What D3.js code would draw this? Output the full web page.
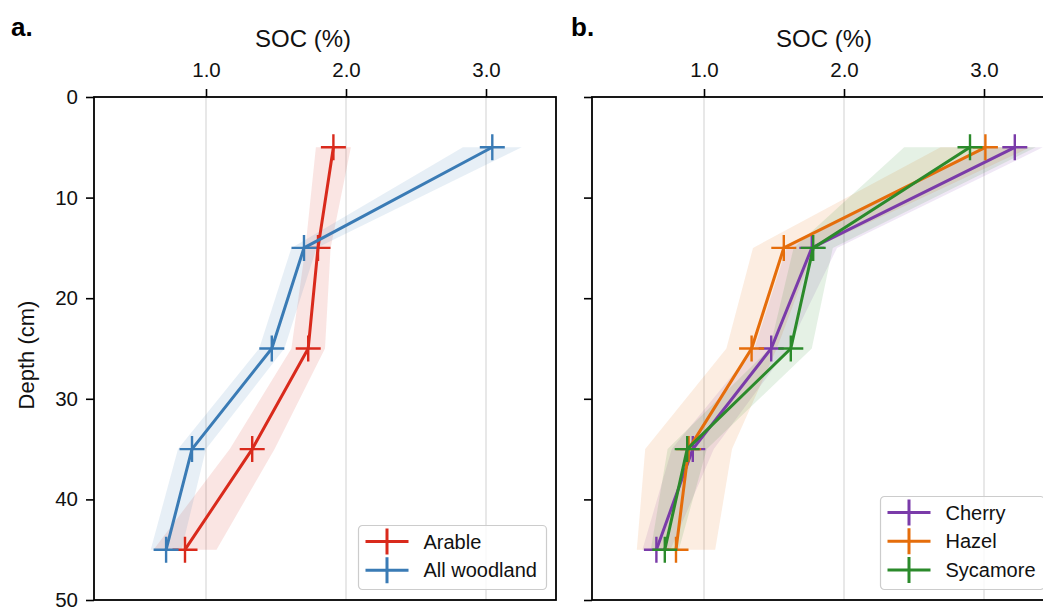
<!DOCTYPE html>
<html>
<head>
<meta charset="utf-8">
<script src="https://cdn.jsdelivr.net/npm/d3@7"></script>
<style>
  body { margin: 0; background: #fff; }
  svg { display: block; font-family: "Liberation Sans", Arial, sans-serif; }
</style>
</head>
<body>
<div id="chart"></div>
<script>
// depth of each sampling layer (cm, mid-point)
var depths = [5, 15, 25, 35, 45];
var xTicks = [1, 2, 3];
var yTicks = [0, 10, 20, 30, 40, 50];

// panel a
var arableSOC = [1.91, 1.80, 1.73, 1.33, 0.85];
var arableErr = [0.125, 0.09, 0.12, 0.16, 0.225];
var woodSOC = [3.045, 1.70, 1.47, 0.90, 0.715];
var woodErr = [0.21, 0.09, 0.09, 0.10, 0.11];

// panel b
var cherrySOC = [3.22, 1.77, 1.48, 0.92, 0.66];
var cherryErr = [0.20, 0.18, 0.12, 0.15, 0.10];
var hazelSOC = [3.01, 1.57, 1.34, 0.89, 0.80];
var hazelErr = [0.32, 0.22, 0.18, 0.31, 0.28];
var sycamoreSOC = [2.90, 1.78, 1.62, 0.88, 0.72];
var sycamoreErr = [0.47, 0.14, 0.15, 0.14, 0.10];

var panelA = [
    {name: "Arable", soc: arableSOC, err: arableErr, color: "#d92a1c"},
    {name: "All woodland", soc: woodSOC, err: woodErr, color: "#3a7bb5"}
];
var panelB = [
    {name: "Cherry", soc: cherrySOC, err: cherryErr, color: "#7a3ba9"},
    {name: "Hazel", soc: hazelSOC, err: hazelErr, color: "#e56d0b"},
    {name: "Sycamore", soc: sycamoreSOC, err: sycamoreErr, color: "#2b8a2b"}
];

var W = 1043, H = 611;
var pw = 462, ph = 503;

var svg = d3.select("#chart").append("svg")
    .attr("width", W)
    .attr("height", H);

var x = d3.scaleLinear().domain([0.2, 3.5]).range([0, pw]);
var y = d3.scaleLinear().domain([0, 50]).range([0, ph]);

function drawPanel(left, top, series, letter, letterX, showYLabels, legendBox, socLabelX) {
    var g = svg.append("g").attr("transform", "translate(" + left + "," + top + ")");

    //vertical grid
    g.selectAll(".grid").data(xTicks).enter().append("line")
        .attr("x1", function (d) { return x(d); })
        .attr("x2", function (d) { return x(d); })
        .attr("y1", 0).attr("y2", ph)
        .attr("stroke", "#dcdcdc")
        .attr("stroke-width", 1.3);

    //shaded bands
    var area = d3.area()
        .y(function (d) { return y(d.depth); })
        .x0(function (d) { return x(d.soc - d.err); })
        .x1(function (d) { return x(d.soc + d.err); });
    series.forEach(function (s) {
        var pts = depths.map(function (dep, i) { return {depth: dep, soc: s.soc[i], err: s.err[i]}; });
        g.append("path")
            .datum(pts)
            .attr("d", area)
            .attr("fill", s.color)
            .attr("fill-opacity", 0.12);
    });

    //lines + crosses
    var line = d3.line()
        .x(function (d) { return x(d.soc); })
        .y(function (d) { return y(d.depth); });
    series.forEach(function (s) {
        var pts = depths.map(function (dep, i) { return {depth: dep, soc: s.soc[i]}; });
        g.append("path")
            .datum(pts)
            .attr("d", line)
            .attr("fill", "none")
            .attr("stroke", s.color)
            .attr("stroke-width", 3);
        g.selectAll(null).data(pts).enter().append("path")
            .attr("transform", function (d) { return "translate(" + x(d.soc) + "," + y(d.depth) + ")"; })
            .attr("d", "M-12.5,0h25M0,-13v26")
            .attr("stroke", s.color)
            .attr("stroke-width", 2.4)
            .attr("fill", "none");
    });

    //axes
    var xAxis = g.append("g")
        .call(d3.axisTop(x).tickValues(xTicks).tickFormat(d3.format(".1f")).tickSize(8).tickPadding(12));
    var yAxis = g.append("g")
        .call(d3.axisLeft(y).tickValues(yTicks).tickSize(8).tickPadding(8)
            .tickFormat(showYLabels ? d3.format("d") : ""));
    [xAxis, yAxis].forEach(function (ax) {
        ax.select(".domain").remove();
        ax.selectAll(".tick line").attr("stroke", "#000").attr("stroke-width", 1.6);
        ax.selectAll(".tick text").attr("fill", "#111").style("font-size", "20.5px")
            .style("font-family", "'Liberation Sans', Arial, sans-serif");
    });

    //frame
    g.append("rect")
        .attr("width", pw).attr("height", ph)
        .attr("fill", "none")
        .attr("stroke", "#000")
        .attr("stroke-width", 1.8);

    //labels
    svg.append("text")
        .attr("x", socLabelX).attr("y", 47)
        .attr("text-anchor", "middle")
        .style("font-size", "24px")
        .attr("fill", "#111")
        .text("SOC (%)");
    svg.append("text")
        .attr("x", letterX).attr("y", 36)
        .style("font-size", "26px")
        .style("font-weight", "bold")
        .text(letter);

    //legend
    var lg = svg.append("g").attr("transform", "translate(" + legendBox[0] + "," + legendBox[1] + ")");
    lg.append("rect")
        .attr("width", legendBox[2]).attr("height", legendBox[3])
        .attr("rx", 4)
        .attr("fill", "#fff").attr("fill-opacity", 0.8)
        .attr("stroke", "#cccccc").attr("stroke-width", 1.2);
    var rowY = d3.scaleLinear().domain([0, series.length - 1])
        .range([16, 16 + 28.7 * (series.length - 1)]);
    series.forEach(function (s, i) {
        var row = lg.append("g").attr("transform", "translate(0," + rowY(i) + ")");
        row.append("path")
            .attr("d", "M7,0h43M28.5,-13v26")
            .attr("stroke", s.color)
            .attr("stroke-width", 3);
        row.append("text")
            .attr("x", 65).attr("y", 0).attr("dy", "0.35em")
            .style("font-size", "20px")
            .attr("fill", "#111")
            .text(s.name);
    });
}

drawPanel(94, 97, panelA, "a.", 11, true, [358.5, 525.5, 188, 64], 303);
drawPanel(592, 97, panelB, "b.", 571, false, [880.5, 496.5, 164, 93], 824);

//y axis title
svg.append("text")
    .attr("transform", "translate(34,355) rotate(-90)")
    .attr("text-anchor", "middle")
    .style("font-size", "22px")
    .attr("fill", "#111")
    .text("Depth (cm)");
</script>
</body>
</html>
